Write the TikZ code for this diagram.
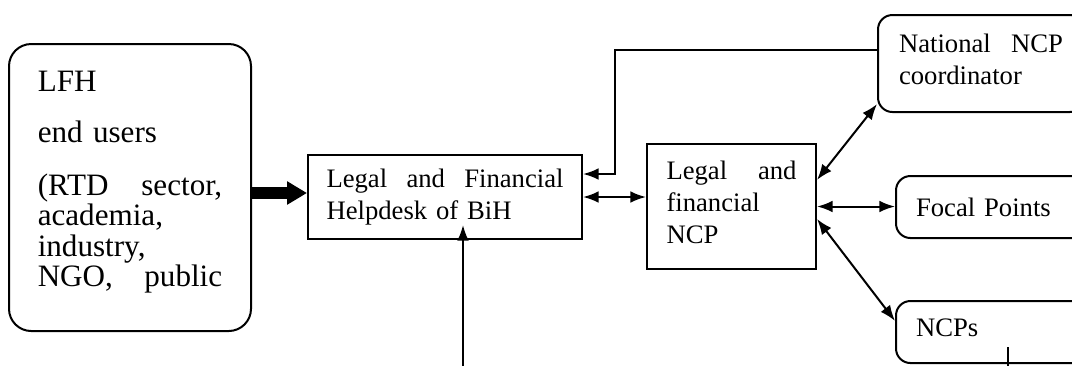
\documentclass[tikz,border=0pt]{standalone}
\usepackage{fontspec}
\setmainfont{Liberation Serif}
\usetikzlibrary{arrows.meta}
\def\spread{\hskip 0pt plus 1filll\relax}
\def\lift#1{\rule[-#1]{0pt}{0pt}}

\begin{document}
\begin{tikzpicture}[x = 0.45pt, y = -0.45pt, line width = 0.9pt, >={Latex},
  box/.style = {draw, anchor = north west, inner sep = 0pt, align = left, font = \fontsize{12}{14.5}\selectfont},
  roundbox/.style = {box, rounded corners = 6.5pt},
  bigarrow/.style = {line width = 5pt, -{Triangle[length = 9pt, width = 10pt]}}]
\clip (0,0) rectangle (1072,365);
              %boxes
\node [box, rounded corners = 10pt, minimum width = 108.9pt, minimum height = 129.15pt, text width = 83pt,
  font = \fontsize{14}{16.8}\selectfont] (lfh) at (8,43)
  {LFH\\[6.2pt]end users\\[7.2pt](RTD\spread sector,\\[-3.2pt]academia,\\[-3.2pt]industry,\\[-3.2pt]NGO,\spread public\lift{8pt}};
\node [box, minimum width = 123.3pt, minimum height = 37.8pt, text width = 106.65pt] (desk) at (307,154)
  {Legal\spread and\spread Financial\\Helpdesk of BiH};
\node [box, minimum width = 76.05pt, minimum height = 56.25pt, text width = 58.5pt] (ncp) at (646,143)
  {Legal\spread and\\financial\\NCP\lift{4pt}};
\node [roundbox, minimum width = 92.7pt, minimum height = 43.65pt, text width = 73.8pt] (natl) at (877,14)
  {National\spread NCP\\coordinator\lift{4pt}};
\node [roundbox, minimum width = 90pt, minimum height = 27.9pt, text width = 72pt] (focal) at (895,175)
  {Focal Points};
\node [roundbox, minimum width = 90pt, minimum height = 27.9pt, text width = 72pt] (ncps) at (895,300)
  {NCPs\lift{3.6pt}};
              %connectors
\draw [bigarrow] ([yshift = 1.8pt]lfh.east |- desk.west) -- ([yshift = 1.8pt]desk.west);
\draw [<->] (desk.east) -- (desk.east -| ncp.west);
\coordinate (turn) at (615,174);
\draw [->] ([yshift = 6pt]natl.west) -| (turn) -- (desk.east |- turn);
\draw [<->] ([yshift = -16.6pt]ncp.north east) -- ([yshift = 4pt]natl.south west);
\draw [<->] (ncp.east) -- (ncp.east -| focal.west);
\draw [<->] ([yshift = -5.6pt]ncp.east) -- ([yshift = 5pt]ncps.west);
\coordinate (feed) at (463,370);
\draw [->] (feed) -- ([yshift = 6.75pt]feed |- desk.south);
\draw (1008,347) -- (1008,370);
\end{tikzpicture}
\end{document}
